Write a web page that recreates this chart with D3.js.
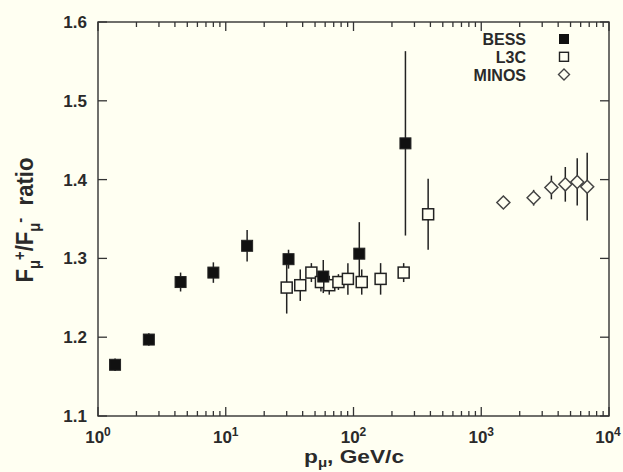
<!DOCTYPE html>
<html>
<head>
<meta charset="utf-8">
<script src="https://cdn.jsdelivr.net/npm/d3@7"></script>
<style>
  body { margin: 0; background: #fffff2; }
  text { font-family: "Liberation Sans", Arial, sans-serif; fill: #2a2a2a; }
</style>
</head>
<body>
<div id="chart"></div>
<script>
// Data: momentum (GeV/c), ratio, error
var bessP = [1.36, 2.5, 4.43, 8.0, 14.7, 31, 58, 111, 255];
var bessR = [1.165, 1.197, 1.270, 1.282, 1.316, 1.299, 1.277, 1.306, 1.446];
var bessE = [0.008, 0.008, 0.012, 0.013, 0.02, 0.012, 0.021, 0.04, 0.117];

var l3cP = [30, 38.3, 46.8, 55.6, 64.6, 76.2, 90.4, 116, 163, 247, 384];
var l3cR = [1.263, 1.266, 1.282, 1.270, 1.266, 1.270, 1.274, 1.270, 1.274, 1.282, 1.356];
var l3cE = [0.033, 0.02, 0.012, 0.012, 0.012, 0.01, 0.02, 0.016, 0.02, 0.012, 0.045];

var minosP = [1490, 2570, 3540, 4550, 5640, 6750];
var minosR = [1.371, 1.377, 1.390, 1.394, 1.397, 1.391];
var minosE = [0.004, 0.01, 0.015, 0.022, 0.03, 0.043];

var yTicks = [1.1, 1.2, 1.3, 1.4, 1.5, 1.6];
var xTicks = [1, 10, 100, 1000, 10000];
var legendNames = ["BESS", "L3C", "MINOS"];

var svgWidth = 623;
var svgHeight = 472;
var margin = { top: 22, right: 14, bottom: 56, left: 98 };
var width = svgWidth - margin.left - margin.right;
var height = svgHeight - margin.top - margin.bottom;

var svg = d3.select("#chart").append("svg")
  .attr("width", svgWidth)
  .attr("height", svgHeight);

var g = svg.append("g")
  .attr("transform", `translate(${margin.left}, ${margin.top})`);

var x = d3.scaleLog().domain([1, 10000]).range([0, width]);
var y = d3.scaleLinear().domain([1.1, 1.6]).range([height, 0]);

var ink = "#333";

// frame
g.append("rect")
  .attr("width", width).attr("height", height)
  .attr("fill", "none").attr("stroke", ink).attr("stroke-width", 1.4);

// x ticks: majors and minors, bottom and top, pointing inward
var minor = [];
for (var d = 1; d < 10000; d *= 10) {
  for (var k = 2; k < 10; k++) minor.push(d * k);
}
[0, height].forEach(function (yy, i) {
  var dir = i === 0 ? 1 : -1;
  g.append("g").selectAll("line").data(xTicks).enter().append("line")
    .attr("x1", d => x(d)).attr("x2", d => x(d))
    .attr("y1", yy).attr("y2", yy + dir * 9)
    .attr("stroke", ink).attr("stroke-width", 1.3);
  g.append("g").selectAll("line").data(minor).enter().append("line")
    .attr("x1", d => x(d)).attr("x2", d => x(d))
    .attr("y1", yy).attr("y2", yy + dir * 5)
    .attr("stroke", ink).attr("stroke-width", 1.3);
});

// y ticks left and right
[0, width].forEach(function (xx, i) {
  var dir = i === 0 ? 1 : -1;
  g.append("g").selectAll("line").data(yTicks).enter().append("line")
    .attr("x1", xx).attr("x2", xx + dir * 9)
    .attr("y1", d => y(d)).attr("y2", d => y(d))
    .attr("stroke", ink).attr("stroke-width", 1.3);
});

// y tick labels
g.append("g").selectAll("text").data(yTicks).enter().append("text")
  .attr("x", -11).attr("y", d => y(d) + 6)
  .attr("text-anchor", "end")
  .style("font-size", "17px").style("font-weight", "bold")
  .text(d => d.toFixed(1));

// x tick labels 10^n
var xl = g.append("g").selectAll("text").data(xTicks).enter().append("text")
  .attr("x", (d, i) => x(d) - (i === xTicks.length - 1 ? 1 : 0)).attr("y", height + 27)
  .attr("text-anchor", "middle")
  .style("font-size", "17px").style("font-weight", "bold");
xl.append("tspan").text("10");
xl.append("tspan").attr("dy", -7).style("font-size", "12px")
  .text(d => Math.round(Math.log10(d)));

// axis titles (the source figure is stretched sideways, so the titles are too)
var xt = svg.append("text")
  .attr("text-anchor", "middle")
  .style("font-size", "18px").style("font-weight", "bold");
xt.append("tspan").text("p");
xt.append("tspan").attr("dy", 4).style("font-size", "12px").text("\u03bc");
xt.append("tspan").attr("dy", -4).text(", GeV/c");
var xw = xt.node().getBBox().width;
xt.attr("transform", `translate(354, 463) scale(${100 / xw}, 1)`);

var yt = svg.append("text")
  .attr("text-anchor", "middle")
  .style("font-size", "18px").style("font-weight", "bold");
yt.append("tspan").text("F");
yt.append("tspan").attr("dy", 5).style("font-size", "12px").text("\u03bc");
yt.append("tspan").attr("dy", -11).style("font-size", "12px").text("+");
yt.append("tspan").attr("dy", 6).text("/F");
yt.append("tspan").attr("dy", 5).style("font-size", "12px").text("\u03bc");
yt.append("tspan").attr("dy", -11).style("font-size", "12px").text("-");
yt.append("tspan").attr("dy", 6).text("\u00a0\u00a0ratio");
var yw = yt.node().getBBox().width;
yt.attr("transform", `translate(33, 220) scale(1.3, ${125 / yw}) rotate(-90)`);

// error bars
function errorBars(P, R, E) {
  g.append("g").selectAll("line").data(P).enter().append("line")
    .attr("x1", d => x(d)).attr("x2", d => x(d))
    .attr("y1", (d, i) => y(R[i] - E[i]))
    .attr("y2", (d, i) => y(R[i] + E[i]))
    .attr("stroke", "#222").attr("stroke-width", 1.5);
}
errorBars(bessP, bessR, bessE);
errorBars(l3cP, l3cR, l3cE);
errorBars(minosP, minosR, minosE);

// markers
function drawSquare(sel, filled) {
  sel.append("rect")
    .attr("x", -5.5).attr("y", -5.5).attr("width", 11).attr("height", 11)
    .attr("fill", filled ? "#111" : "#fffff2")
    .attr("stroke", "#222").attr("stroke-width", filled ? 1 : 1.5);
}
function drawDiamond(sel) {
  sel.append("path")
    .attr("d", "M0,-6.5L6.5,0L0,6.5L-6.5,0Z")
    .attr("fill", "#fffff2").attr("stroke", "#444").attr("stroke-width", 1.5);
}

g.append("g").selectAll("g").data(l3cP).enter().append("g")
  .attr("transform", (d, i) => `translate(${x(d)}, ${y(l3cR[i])})`)
  .call(drawSquare, false);
g.append("g").selectAll("g").data(bessP).enter().append("g")
  .attr("transform", (d, i) => `translate(${x(d)}, ${y(bessR[i])})`)
  .call(drawSquare, true);
g.append("g").selectAll("g").data(minosP).enter().append("g")
  .attr("transform", (d, i) => `translate(${x(d)}, ${y(minosR[i])})`)
  .call(drawDiamond);

// legend
var leg = svg.append("g").selectAll("g").data(legendNames).enter().append("g")
  .attr("transform", (d, i) => `translate(0, ${39 + i * 17.8})`);
leg.append("text")
  .attr("x", 526).attr("y", 6)
  .attr("text-anchor", "end")
  .style("font-size", "16px").style("font-weight", "bold")
  .text(d => d);
leg.each(function (d, i) {
  var m = d3.select(this).append("g").attr("transform", "translate(564, 0)");
  if (i === 0) {
    m.append("rect").attr("x", -5).attr("y", -5).attr("width", 10).attr("height", 10)
      .attr("fill", "#111");
  } else if (i === 1) {
    m.append("rect").attr("x", -4.5).attr("y", -4.5).attr("width", 9).attr("height", 9)
      .attr("fill", "none").attr("stroke", "#222").attr("stroke-width", 1.4);
  } else {
    m.append("path").attr("d", "M0,-5.5L5.5,0L0,5.5L-5.5,0Z")
      .attr("fill", "none").attr("stroke", "#444").attr("stroke-width", 1.4);
  }
});
</script>
</body>
</html>
